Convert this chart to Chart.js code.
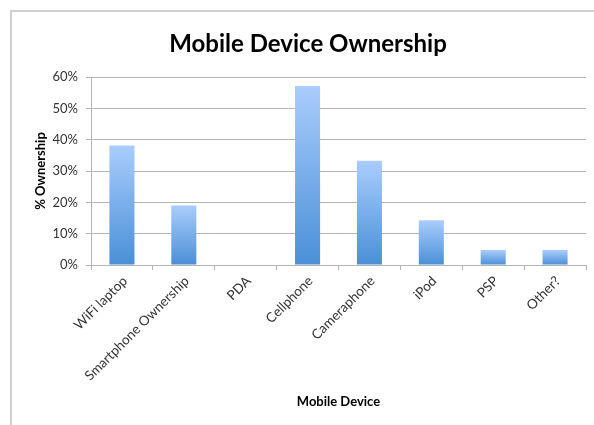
<!DOCTYPE html>
<html>
<head>
<meta charset="utf-8">
<title>Mobile Device Ownership</title>
<script src="https://cdn.jsdelivr.net/npm/chart.js@4"></script>
<style>
  html, body { margin: 0; padding: 0; background: #ffffff; }
  #wrap { position: relative; width: 594px; height: 425px; overflow: hidden; }
  #frame {
    position: absolute; left: 10px; top: 10px; width: 600px; height: 430px;
    border-left: 2px solid #cfcfcf; border-top: 2px solid #cfcfcf;
  }
  #chart { position: absolute; left: 0; top: 0; }
</style>
</head>
<body>
<div id="wrap">
  <div id="frame"></div>
  <canvas id="chart" width="594" height="425"></canvas>
</div>
<script>
// Survey results: share of respondents owning each kind of device (%)
const categories = ['WiFi laptop', 'Smartphone Ownership', 'PDA', 'Cellphone',
                    'Cameraphone', 'iPod', 'PSP', 'Other?'];
const ownership = [38.1, 19.0, 0, 57.1, 33.3, 14.3, 4.8, 4.8];
const yTickValues = [0, 10, 20, 30, 40, 50, 60];

const FONT = 'Lato, "Open Sans", "Liberation Sans", sans-serif';
const GRID = '#b4b4b4';

// Vertical gradient per bar: light blue at the top fading to a deeper blue at the base
function barGradient(ctx) {
  const chart = ctx.chart;
  const y = chart.scales && chart.scales.y;
  if (!y || !chart.chartArea || ctx.raw === undefined) return '#78aee8';
  const top = y.getPixelForValue(ctx.raw);
  const base = y.getPixelForValue(0);
  if (!(base - top > 0.5)) return '#a9cdfc';
  const g = chart.ctx.createLinearGradient(0, top, 0, base);
  g.addColorStop(0, '#a9cdfc');
  g.addColorStop(1, '#4a8fd7');
  return g;
}

// Nudge the title block so the heading is centred a little right of the canvas middle
const titleShift = {
  id: 'titleShift',
  afterLayout(chart) {
    const t = chart.titleBlock;
    if (t) { t.left += 18; t.width = t.right - t.left; }
  }
};

new Chart(document.getElementById('chart'), {
  type: 'bar',
  data: {
    labels: categories,
    datasets: [{
      label: '% Ownership',
      data: ownership,
      backgroundColor: barGradient,
      borderWidth: 0,
      categoryPercentage: 1,
      barPercentage: 0.405
    }]
  },
  plugins: [titleShift],
  options: {
    responsive: false,
    animation: false,
    layout: { padding: { left: 12, right: 8, top: 0, bottom: 0 } },
    plugins: {
      legend: { display: false },
      tooltip: { enabled: false },
      title: {
        display: true,
        text: 'Mobile Device Ownership',
        color: '#000000',
        font: { family: FONT, size: 24, weight: 'bold' },
        padding: { top: 29.6, bottom: 18.6 }
      }
    },
    scales: {
      x: {
        afterFit: s => { s.height = 160; },
        grid: {
          offset: true,
          drawOnChartArea: false,
          drawTicks: true,
          tickLength: 5,
          color: GRID
        },
        border: { display: true, color: GRID, width: 1 },
        ticks: {
          autoSkip: false,
          minRotation: 45,
          maxRotation: 45,
          padding: 3,
          labelOffset: 3,
          color: '#333333',
          font: { family: FONT, size: 13.5 }
        },
        title: {
          display: true,
          text: 'Mobile Device',
          color: '#000000',
          font: { family: FONT, size: 13, weight: 'bold' },
          padding: { top: 0, bottom: 15 }
        }
      },
      y: {
        min: 0,
        max: 60,
        afterFit: s => { s.width = 79; },
        afterBuildTicks: s => { s.ticks = yTickValues.map(v => ({ value: v })); },
        grid: {
          color: GRID,
          lineWidth: 1,
          drawTicks: true,
          tickLength: 5
        },
        border: { display: true, color: GRID, width: 1 },
        ticks: {
          padding: 8,
          color: '#333333',
          font: { family: FONT, size: 13 },
          callback: v => v + '%'
        },
        title: {
          display: true,
          text: '% Ownership',
          color: '#000000',
          font: { family: FONT, size: 13, weight: 'bold' },
          padding: { top: 21, bottom: 0 }
        }
      }
    }
  }
});
</script>
</body>
</html>
